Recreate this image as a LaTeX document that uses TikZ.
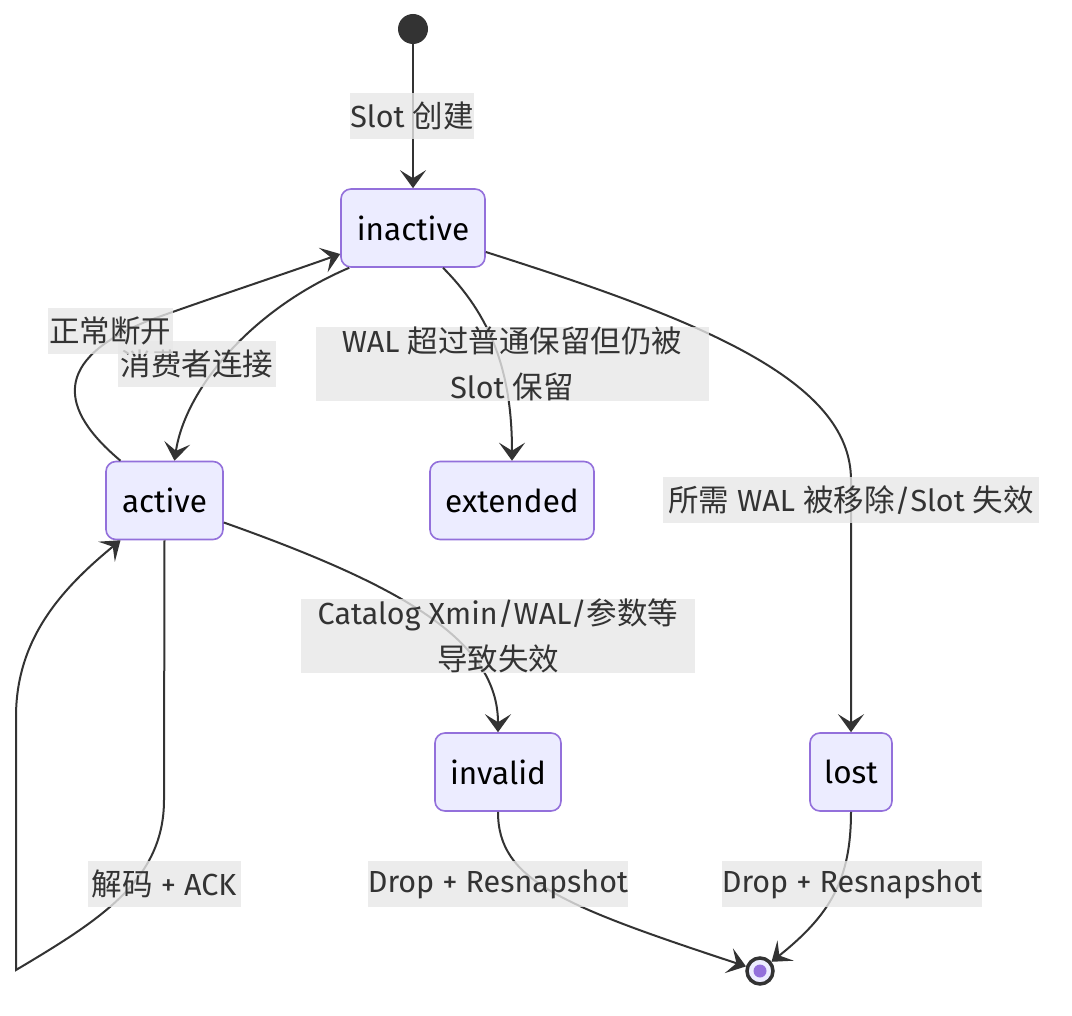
\documentclass[tikz,border=0pt]{standalone}
\usepackage{fontspec}
\setmainfont{Fira Sans}
\newfontfamily\cjkfont{Noto Sans CJK SC}
\newcommand{\zhs}[1]{{\cjkfont #1}}
\usetikzlibrary{arrows.meta}
\definecolor{edgecol}{HTML}{333333}
\definecolor{statefill}{HTML}{ECECFF}
\definecolor{stateborder}{HTML}{9370DB}
\definecolor{labelfill}{HTML}{E8E8E8}
\definecolor{labeltext}{HTML}{333333}
\tikzset{
  statebox/.style={draw=stateborder, line width=1.6pt, fill=statefill, rounded corners=10pt,
    minimum height=78pt, text=black, font=\fontsize{31.5}{36}\selectfont, inner sep=0pt},
  lbl/.style={fill=labelfill, fill opacity=0.8, text opacity=1, text=labeltext,
    font=\fontsize{30.5}{46}\selectfont, inner xsep=0pt, inner ysep=0pt, align=center, minimum height=46pt},
  conn/.style={draw=edgecol, line width=2pt, -{Stealth[length=18pt,width=26pt,inset=8pt]}},
  plain/.style={draw=edgecol, line width=2pt}
}
\begin{document}
\begin{tikzpicture}[x=1pt,y=-1pt]
\useasboundingbox (0,0) rectangle (1072,1016);
\fill[white] (0,0) rectangle (1072,1016);

% states
\node[circle, fill=edgecol, minimum size=30pt, inner sep=0pt] (start) at (413,29) {};
\node[statebox, minimum width=144pt] (inactive) at (413,228) {inactive};
\node[statebox, minimum width=117pt] (active) at (164.5,500.5) {active};
\node[statebox, minimum width=164pt] (extended) at (512,500.5) {extended};
\node[statebox, minimum width=126pt] (invalid) at (498,772) {invalid};
\node[statebox, minimum width=82pt] (lost) at (851,772) {lost};
\node[circle, draw=edgecol, line width=3.5pt, fill=statefill, minimum size=26pt, inner sep=0pt] (endst) at (760,971) {};
\fill[stateborder] (endst.center) circle (6.5pt);

% connectors
\draw[conn] (start) -- (inactive.north);
\draw[conn] ([xshift=9pt]inactive.south west) .. controls (250,310) and (185,390) .. ([xshift=10pt]active.north);
\draw[conn] ([xshift=-44pt]active.north) .. controls (60,410) and (50,360) .. (150,320)
   .. controls (220,295) and (290,272) .. ([yshift=-26pt]inactive.west);
\draw[conn] ([xshift=30pt]inactive.south) .. controls (490,315) and (512,370) .. (extended.north);
\draw[conn] ([yshift=-24pt]inactive.east) .. controls (700,320) and (851,380) .. (851,480) -- (lost.north);
\draw[conn] ([yshift=-22pt]active.east) .. controls (400,585) and (498,640) .. (invalid.north);
\draw[conn] (active.south) -- (164,800) .. controls (164,880) and (100,920) .. (16,970)
   -- (16,717) .. controls (16,640) and (60,590) .. ([xshift=-44pt]active.south);
\draw[conn] (invalid.south) .. controls (498,880) and (560,905) .. (endst);
\draw[conn] (lost.south) .. controls (851,880) and (830,915) .. (endst);

% labels
\node[lbl, minimum width=124pt] (l1) at (412,116) {Slot \zhs{创建}};
\node[lbl, minimum width=158pt] (l2) at (197,364) {\zhs{消费者连接}};
\node[lbl, minimum width=125pt] (l3) at (110,331) {\zhs{正常断开}};
\node[lbl, minimum width=393pt] (l4) at (512,364) {WAL \zhs{超过普通保留但仍被}\\Slot \zhs{保留}};
\node[lbl, minimum width=376pt] (l5) at (851,500) {\zhs{所需} WAL \zhs{被移除}/Slot \zhs{失效}};
\node[lbl, minimum width=394pt] (l6) at (498,636) {Catalog Xmin/WAL/\zhs{参数等}\\\zhs{导致失效}};
\node[lbl, minimum width=153pt] (l7) at (164,884) {\zhs{解码} + ACK};
\node[lbl, minimum width=258pt] (l8) at (498,884) {Drop + Resnapshot};
\node[lbl, minimum width=258pt] (l9) at (852,884) {Drop + Resnapshot};
\end{tikzpicture}
\end{document}
